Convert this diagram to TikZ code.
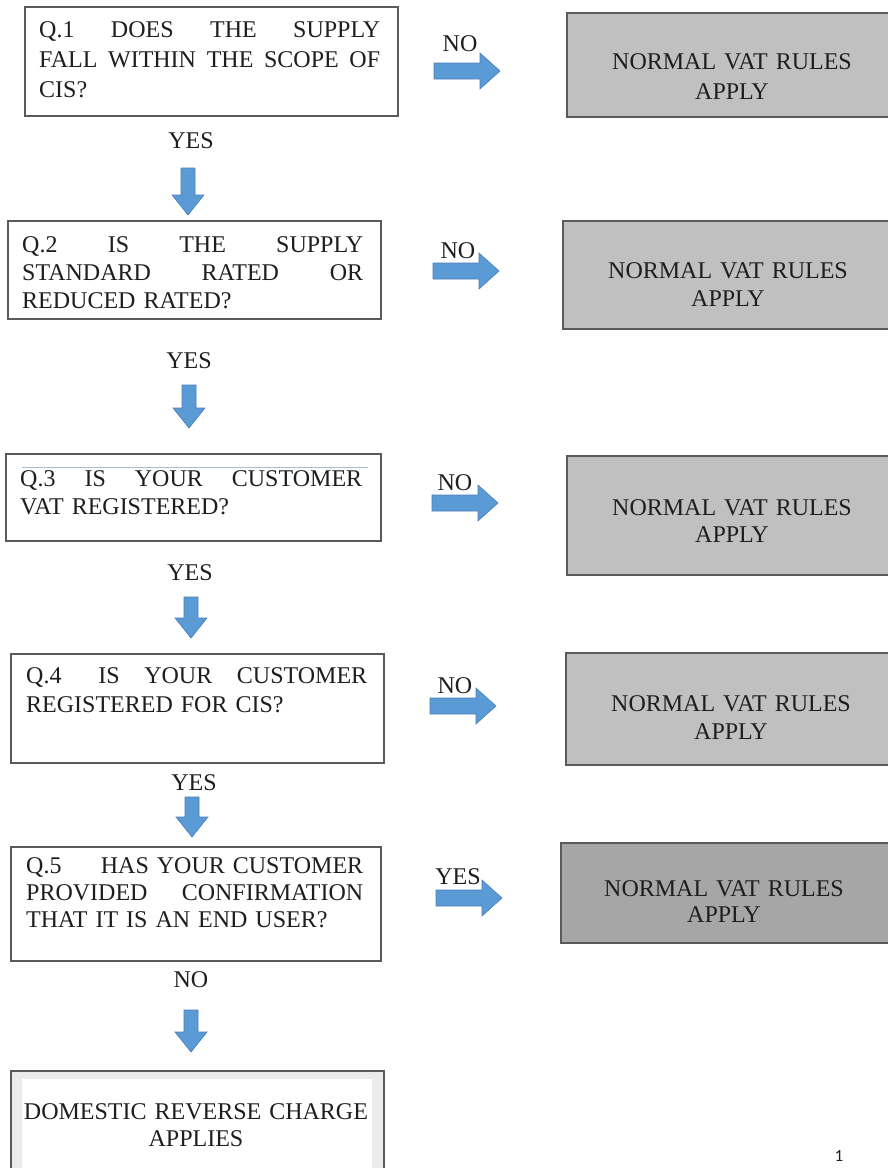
\documentclass[tikz,border=0pt]{standalone}
\usepackage{fontspec}
\setmainfont{Liberation Serif}
\newfontfamily\pgnumfont{Carlito}
\definecolor{arrowblue}{HTML}{5B9BD5}
\definecolor{arrowedge}{HTML}{4A7EBB}
\definecolor{boxline}{HTML}{5A5A5A}
\definecolor{greyA}{HTML}{C0C0C0}
\definecolor{greyB}{HTML}{A6A6A6}
\definecolor{bandgrey}{HTML}{EBEBEB}
\definecolor{txt}{HTML}{1E1E1E}
\definecolor{strayline}{HTML}{A9BCD6}
\newcommand\jl[1]{\leavevmode\hbox to \linewidth{#1}}
\newcommand\rarr[2]{%
  \fill[arrowblue, draw=arrowedge, line width=0.6pt]
    (#1,#2-8) -- (#1+46,#2-8) -- (#1+46,#2-18) -- (#1+66,#2)
    -- (#1+46,#2+18) -- (#1+46,#2+8) -- (#1,#2+8) -- cycle;}
\newcommand\darr[3]{%
  \fill[arrowblue, draw=arrowedge, line width=0.6pt]
    (#1-7,#2) -- (#1+7,#2) -- (#1+7,#3-20) -- (#1+16,#3-20) -- (#1,#3)
    -- (#1-16,#3-20) -- (#1-7,#3-20) -- cycle;}
\tikzset{
  qbox/.style={draw=boxline, line width=1.5pt, fill=white, inner sep=0pt, anchor=north west},
  gbox/.style={draw=boxline, line width=1.5pt, fill=greyA, inner sep=0pt, anchor=north west},
  qtext/.style={anchor=base west, inner sep=0pt, text width=#1, align=left, text=txt},
  gtext/.style={anchor=base, inner sep=0pt, text width=#1, align=center, text=txt},
  gtext/.default=300pt,
  lbl/.style={anchor=base, inner sep=0pt, text=txt, font=\fontsize{24}{28}\selectfont},
}
\begin{document}
\begin{tikzpicture}[x=1pt,y=-1pt]
\useasboundingbox (0,0) rectangle (888,1168);
\clip (0,0) rectangle (888,1168);
\fill[white] (0,0) rectangle (888,1168);

% question boxes
\node[qbox, minimum width=373pt, minimum height=109pt] (q1) at (24,6) {};
\node[qbox, minimum width=373pt, minimum height=98pt] (q2) at (7,220) {};
\node[qbox, minimum width=375pt, minimum height=87pt] (q3) at (5,453) {};
\node[qbox, minimum width=373pt, minimum height=109pt] (q4) at (10,653) {};
\node[qbox, minimum width=370pt, minimum height=114pt] (q5) at (10,846) {};
\node[qbox, fill=bandgrey, minimum width=373pt, minimum height=130pt] (q6) at (10,1070) {};
\fill[white] (22,1079) rectangle (372,1200);

\draw[strayline, line width=0.6pt] (22,467) -- (368,467);

\node[qtext=341pt, font=\fontsize{24}{30}\selectfont] (t1) at (39,37)
  {\jl{Q.1\hfill DOES\hfill THE\hfill SUPPLY}\\\jl{FALL\hfill WITHIN\hfill THE\hfill SCOPE\hfill OF}\\CIS?};
\node[qtext=341pt, font=\fontsize{24}{28}\selectfont] (t2) at (22,252)
  {\jl{Q.2\hfill IS\hfill THE\hfill SUPPLY}\\\jl{STANDARD\hfill RATED\hfill OR}\\REDUCED RATED?};
\node[qtext=342pt, font=\fontsize{24}{28}\selectfont] (t3) at (20,486)
  {\jl{Q.3\hfill IS\hfill YOUR\hfill CUSTOMER}\\VAT REGISTERED?};
\node[qtext=341pt, font=\fontsize{24}{29}\selectfont] (t4) at (26,683)
  {\jl{Q.4\hskip 0pt plus 1.5fill IS\hfill YOUR\hfill CUSTOMER}\\REGISTERED FOR CIS?};
\node[qtext=337pt, font=\fontsize{24}{27}\selectfont] (t5) at (26,873)
  {\jl{Q.5\hfill HAS YOUR CUSTOMER}\\\jl{PROVIDED\hfill CONFIRMATION}\\THAT IT IS AN END USER?};
\node[gtext=365pt, font=\fontsize{24}{27}\selectfont] (t6) at (196,1119)
  {DOMESTIC REVERSE CHARGE\\APPLIES};

% result boxes
\node[gbox, minimum width=332pt, minimum height=104pt] (g1) at (566,12) {};
\node[gbox, minimum width=336pt, minimum height=108pt] (g2) at (562,220) {};
\node[gbox, minimum width=332pt, minimum height=119pt] (g3) at (566,455) {};
\node[gbox, minimum width=333pt, minimum height=112pt] (g4) at (565,652) {};
\node[gbox, fill=greyB, minimum width=338pt, minimum height=100pt] (g5) at (560,842) {};

\node[gtext, font=\fontsize{24}{30}\selectfont] (n1) at (732,69) {NORMAL VAT RULES\\APPLY};
\node[gtext, font=\fontsize{24}{28}\selectfont] (n2) at (728,278) {NORMAL VAT RULES\\APPLY};
\node[gtext, font=\fontsize{24}{27}\selectfont] (n3) at (732,515) {NORMAL VAT RULES\\APPLY};
\node[gtext, font=\fontsize{24}{28}\selectfont] (n4) at (731,711) {NORMAL VAT RULES\\APPLY};
\node[gtext, font=\fontsize{24}{26}\selectfont] (n5) at (724,896) {NORMAL VAT RULES\\APPLY};

% arrows
\rarr{434}{71}
\rarr{433}{271}
\rarr{432}{503}
\rarr{430}{706}
\rarr{436}{898}
\darr{188}{168}{215}
\darr{189}{385}{428}
\darr{191}{597}{638}
\darr{192}{797}{837}
\darr{191}{1010}{1052}

% labels
\node[lbl] (l1) at (460,51) {NO};
\node[lbl] (l2) at (458,258) {NO};
\node[lbl] (l3) at (455,490) {NO};
\node[lbl] (l4) at (455,693) {NO};
\node[lbl] (l5) at (458,884) {YES};
\node[lbl] (y1) at (191,148) {YES};
\node[lbl] (y2) at (189,368) {YES};
\node[lbl] (y3) at (190,580) {YES};
\node[lbl] (y4) at (194,790) {YES};
\node[lbl] (y5) at (191,987) {NO};

\node[anchor=base, inner sep=0pt, text=txt, font=\pgnumfont\fontsize{17}{17}\selectfont] (pg) at (839,1161) {1};
\end{tikzpicture}
\end{document}
